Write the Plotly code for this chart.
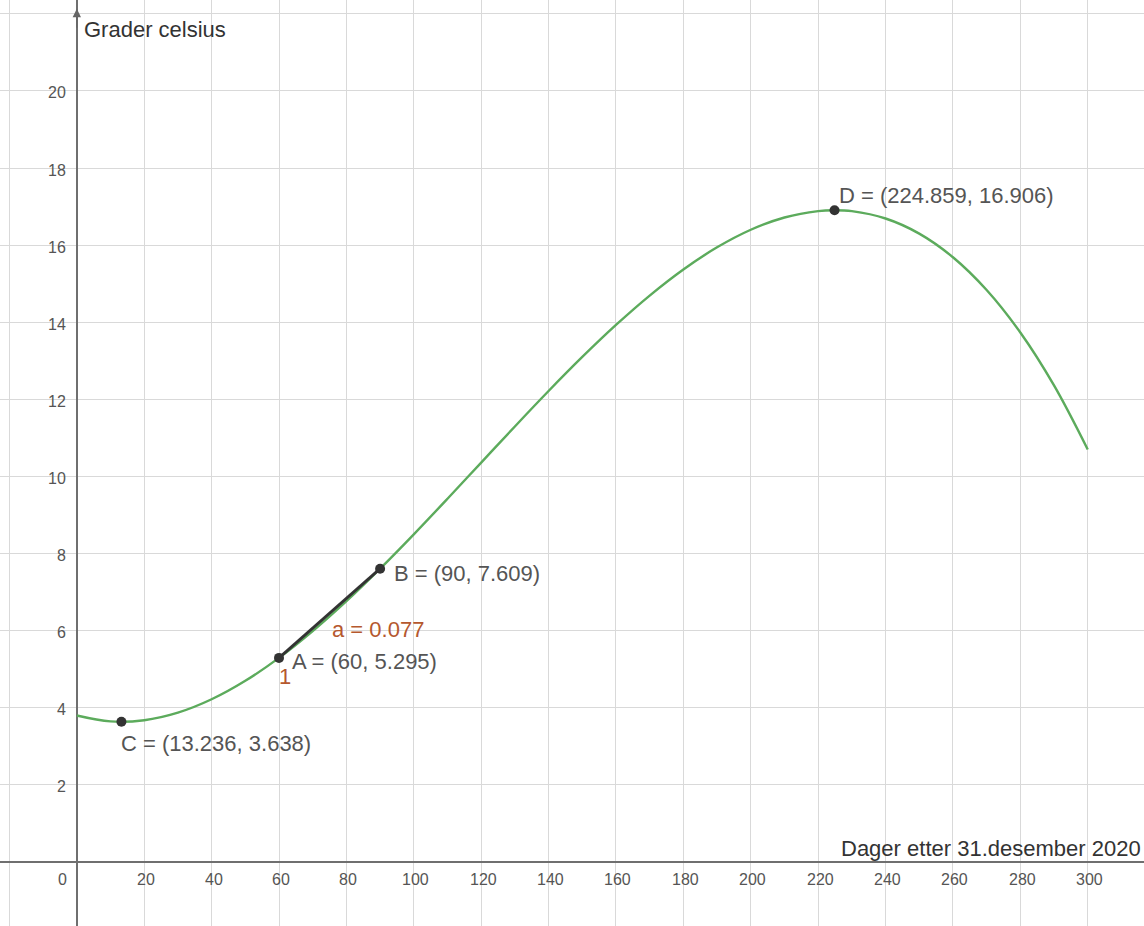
import plotly.graph_objects as go

# Curve values (temperature vs days)
curve_x = [0, 10, 20, 30, 40, 50, 60, 70, 80, 90, 100, 110, 120, 130, 140, 150,
           160, 170, 180, 190, 200, 210, 220, 224.859, 230, 240, 250, 260, 270, 280, 290, 300]
curve_y = [3.800, 3.647, 3.678, 3.874, 4.221, 4.700, 5.295, 5.990, 6.766, 7.609, 8.500,
           9.423, 10.361, 11.298, 12.217, 13.100, 13.931, 14.693, 15.370, 15.944, 16.400,
           16.719, 16.885, 16.906, 16.882, 16.692, 16.300, 15.687, 14.837, 13.734, 12.361, 10.700]

# Named points
point_names = ["A", "B", "C", "D"]
point_x = [60, 90, 13.236, 224.859]
point_y = [5.295, 7.609, 3.638, 16.906]
point_labels = ["A = (60, 5.295)", "B = (90, 7.609)", "C = (13.236, 3.638)", "D = (224.859, 16.906)"]

slope_label = "a = 0.077"
slope_run_label = "1"

x_ticks = [20, 40, 60, 80, 100, 120, 140, 160, 180, 200, 220, 240, 260, 280, 300]
y_ticks = [2, 4, 6, 8, 10, 12, 14, 16, 18, 20]

x_title = "Dager etter 31.desember 2020"
y_title = "Grader celsius"

FONT = "Liberation Sans, Arial, sans-serif"
LABEL_COLOR = "#555555"
SLOPE_COLOR = "#b5582e"
LABEL_SIZE = 22
TICK_SIZE = 16

fig = go.Figure()

fig.add_trace(go.Scatter(x=curve_x, y=curve_y, mode="lines",
                         line=dict(color="#5cab5c", width=2.4, shape="spline", smoothing=1.0),
                         hoverinfo="skip", showlegend=False))

# segment A-B
fig.add_trace(go.Scatter(x=point_x[0:2], y=point_y[0:2], mode="lines",
                         line=dict(color="#333333", width=2.8),
                         hoverinfo="skip", showlegend=False))

fig.add_trace(go.Scatter(x=point_x, y=point_y, mode="markers",
                         marker=dict(color="#333333", size=10),
                         hoverinfo="skip", showlegend=False))

annotations = []
offsets = {
    "A": dict(xshift=11, yshift=-4, xanchor="left", yanchor="middle"),
    "B": dict(xshift=12, yshift=-5, xanchor="left", yanchor="middle"),
    "C": dict(xshift=-2, yshift=-22, xanchor="left", yanchor="middle"),
    "D": dict(xshift=2, yshift=15, xanchor="left", yanchor="middle"),
}
for n, px, py, lab in zip(point_names, point_x, point_y, point_labels):
    o = offsets[n]
    annotations.append(dict(x=px, y=py, text=lab, showarrow=False, xref="x", yref="y",
                            font=dict(family=FONT, size=LABEL_SIZE, color=LABEL_COLOR), **o))

# slope labels
annotations.append(dict(x=(point_x[0] + point_x[1]) / 2, y=(point_y[0] + point_y[1]) / 2,
                        text=slope_label, showarrow=False, xref="x", yref="y",
                        xanchor="left", yanchor="middle", xshift=0, yshift=-16,
                        font=dict(family=FONT, size=LABEL_SIZE, color=SLOPE_COLOR)))
annotations.append(dict(x=point_x[0], y=point_y[0], text=slope_run_label, showarrow=False,
                        xref="x", yref="y", xanchor="center", yanchor="middle",
                        xshift=6, yshift=-19,
                        font=dict(family=FONT, size=LABEL_SIZE, color=SLOPE_COLOR)))

# tick labels
for t in x_ticks:
    annotations.append(dict(x=t, y=0, text=str(t), showarrow=False, xref="x", yref="y",
                            xanchor="center", yanchor="middle", xshift=2, yshift=-17,
                            font=dict(family=FONT, size=TICK_SIZE, color=LABEL_COLOR)))
annotations.append(dict(x=0, y=0, text="0", showarrow=False, xref="x", yref="y",
                        xanchor="center", yanchor="middle", xshift=-14, yshift=-17,
                        font=dict(family=FONT, size=TICK_SIZE, color=LABEL_COLOR)))
for t in y_ticks:
    annotations.append(dict(x=0, y=t, text=str(t), showarrow=False, xref="x", yref="y",
                            xanchor="right", yanchor="middle", xshift=-9, yshift=-2,
                            font=dict(family=FONT, size=TICK_SIZE, color=LABEL_COLOR)))

# axis titles
annotations.append(dict(x=0, y=22.36, text=y_title, showarrow=False, xref="x", yref="y",
                        xanchor="left", yanchor="top", xshift=5, yshift=-15,
                        font=dict(family=FONT, size=LABEL_SIZE, color="#333333")))
annotations.append(dict(x=316.7, y=0, text=x_title, showarrow=False, xref="x", yref="y",
                        xanchor="right", yanchor="bottom", xshift=-1, yshift=-1,
                        font=dict(family=FONT, size=LABEL_SIZE, color="#333333")))

# y axis arrow
annotations.append(dict(x=0, y=22.13, ax=0, ay=21.6, xref="x", yref="y", axref="x", ayref="y",
                        showarrow=True, arrowhead=2, arrowsize=1.2, arrowwidth=1.4,
                        arrowcolor="#666666", text=""))

fig.update_layout(
    width=1144, height=926,
    margin=dict(l=0, r=0, t=0, b=0),
    paper_bgcolor="white", plot_bgcolor="white",
    showlegend=False,
    annotations=annotations,
    xaxis=dict(range=[-22.8, 316.7], dtick=20, tick0=0, showgrid=True,
               gridcolor="#d9d9d9", gridwidth=1.4, zeroline=True, zerolinecolor="#6f6f6f",
               zerolinewidth=1.6, showticklabels=False, ticks="", showline=False, fixedrange=True),
    yaxis=dict(range=[-1.66, 22.36], dtick=2, tick0=0, showgrid=True,
               gridcolor="#d9d9d9", gridwidth=1.4, zeroline=True, zerolinecolor="#6f6f6f",
               zerolinewidth=1.6, showticklabels=False, ticks="", showline=False, fixedrange=True),
)

fig.write_html("out.html", config={"displayModeBar": False},
               post_script="document.body.style.margin='0px';document.body.style.overflow='hidden';")
